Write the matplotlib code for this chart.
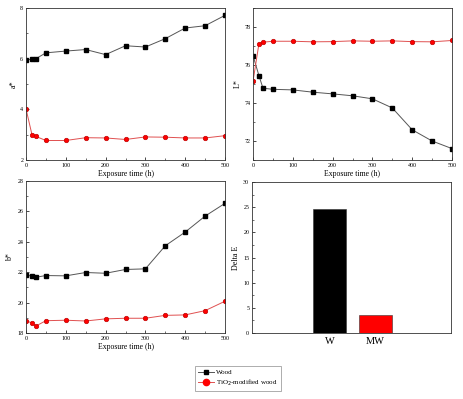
import matplotlib
matplotlib.use("Agg")
import matplotlib.pyplot as plt
from matplotlib.lines import Line2D
from matplotlib.ticker import AutoMinorLocator

plt.rcParams['font.family'] = ['Liberation Serif', 'DejaVu Serif']

time_h = [0, 15, 25, 50, 100, 150, 200, 250, 300, 350, 400, 450, 500]
a_wood = [5.95, 5.98, 6.00, 6.23, 6.30, 6.36, 6.16, 6.51, 6.46, 6.79, 7.21, 7.30, 7.71]
a_tio2 = [4.02, 3.00, 2.93, 2.77, 2.77, 2.88, 2.87, 2.81, 2.91, 2.90, 2.87, 2.87, 2.96]
L_wood = [76.49, 75.44, 74.78, 74.72, 74.69, 74.57, 74.48, 74.38, 74.22, 73.74, 72.59, 72.00, 71.60]
L_tio2 = [75.14, 77.13, 77.20, 77.25, 77.25, 77.22, 77.23, 77.27, 77.25, 77.27, 77.23, 77.22, 77.29]
b_wood = [21.82, 21.74, 21.67, 21.78, 21.76, 21.98, 21.93, 22.18, 22.22, 23.74, 24.64, 25.69, 26.53]
b_tio2 = [18.81, 18.66, 18.46, 18.81, 18.84, 18.79, 18.93, 18.97, 18.97, 19.16, 19.19, 19.47, 20.09]
de_labels = ['W', 'MW']
de_values = [24.66, 3.56]

W, H = 463, 399
fig = plt.figure(figsize=(W / 100, H / 100), dpi=100)

def rect(l, t, r, b):
    return [l / W, 1 - b / H, (r - l) / W, (b - t) / H]

ax1 = fig.add_axes(rect(26, 8, 225, 160))
ax2 = fig.add_axes(rect(253, 8, 452, 160))
ax3 = fig.add_axes(rect(26, 181, 225, 333))
ax4 = fig.add_axes(rect(252, 182, 451, 333))

wood_kw = dict(color='#555555', lw=0.7, marker='s', ms=3.0, mfc='black', mec='black')
tio2_kw = dict(color='#e05050', lw=0.7, marker='o', ms=3.2, mfc='#ff0000', mec='#c00000', mew=0.5)

def style(ax, ylabel):
    ax.tick_params(which='major', direction='in', labelsize=4.3, length=2.2, width=0.5, pad=2)
    ax.tick_params(which='minor', direction='in', length=1.2, width=0.4)
    for s in ax.spines.values():
        s.set_linewidth(0.6)
        s.set_color('#333333')
    ax.set_ylabel(ylabel, fontsize=5.8, labelpad=2)

for ax, yw, yt, yl, ylim, yticks in [
    (ax1, a_wood, a_tio2, 'a*', (2, 8), [2, 4, 6, 8]),
    (ax2, L_wood, L_tio2, 'L*', (71, 79), [72, 74, 76, 78]),
    (ax3, b_wood, b_tio2, 'b*', (18, 28), [18, 20, 22, 24, 26, 28]),
]:
    ax.plot(time_h, yw, **wood_kw)
    ax.plot(time_h, yt, **tio2_kw)
    ax.set_xlim(0, 500)
    ax.set_xticks([0, 100, 200, 300, 400, 500])
    ax.xaxis.set_minor_locator(AutoMinorLocator(2))
    ax.yaxis.set_minor_locator(AutoMinorLocator(2))
    ax.set_ylim(*ylim)
    ax.set_yticks(yticks)
    style(ax, yl)
    ax.set_xlabel('Exposure time (h)', fontsize=5.6, labelpad=1.5)

ax4.bar([0, 1], de_values, width=0.72, color=['black', '#ff0000'], edgecolor='#333333', linewidth=0.4)
ax4.set_xlim(-1.676, 2.633)
ax4.set_ylim(0, 30)
ax4.set_yticks([0, 5, 10, 15, 20, 25, 30])
ax4.yaxis.set_minor_locator(AutoMinorLocator(2))
ax4.set_xticks([0, 1])
ax4.set_xticklabels(de_labels)
style(ax4, 'Delta E')
ax4.tick_params(axis='x', which='both', labelsize=7.5, length=0, pad=3)

handles = [Line2D([], [], **wood_kw), Line2D([], [], color='#e05050', lw=0.7, marker='o', ms=4.5, mfc='#ff0000', mec='#ff0000')]
leg = fig.legend(handles, ['Wood', 'TiO$_2$-modified wood'], loc='upper left',
                 bbox_to_anchor=(192 / W, 1 - 363 / H), fontsize=5, frameon=True,
                 fancybox=False, borderpad=0.4, handlelength=2.2, labelspacing=0.4,
                 handletextpad=0.4)
leg.get_frame().set_edgecolor('#888888')
leg.get_frame().set_linewidth(0.6)

fig.savefig('out.png', dpi=100)
